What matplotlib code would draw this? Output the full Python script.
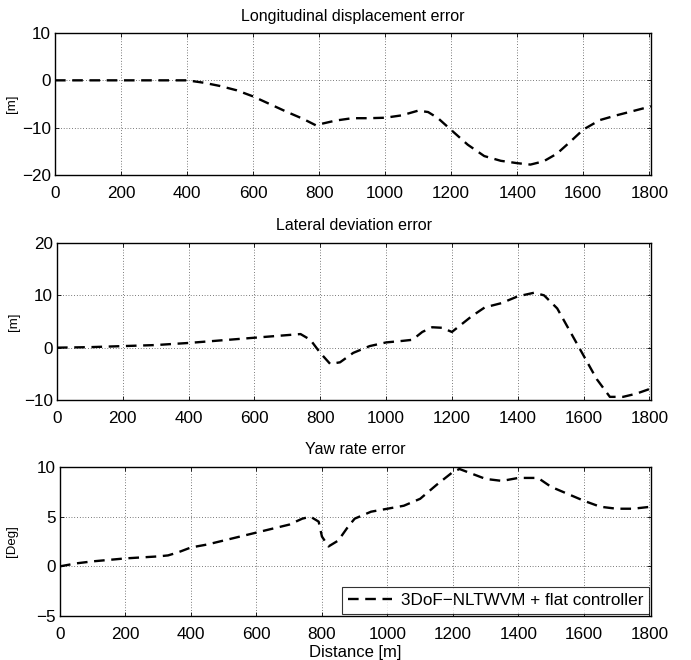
import numpy as np
import matplotlib
matplotlib.use('Agg')
import matplotlib.pyplot as plt

plt.rcParams['font.family'] = ['Liberation Sans', 'DejaVu Sans']

# Longitudinal displacement error [m]
long_x = [0, 100, 200, 300, 400, 450, 500, 550, 600, 650, 700, 750, 790, 800, 850, 900,
          950, 1000, 1050, 1100, 1130, 1160, 1200, 1250, 1300, 1350, 1400, 1440, 1480,
          1520, 1560, 1600, 1650, 1700, 1750, 1805]
long_y = [0, 0, 0, 0, 0, -0.5, -1.2, -2.1, -3.4, -5.0, -6.6, -8.1, -9.5, -9.3, -8.5, -8.0,
          -8.0, -7.9, -7.4, -6.4, -6.7, -8.0, -10.5, -13.6, -16.0, -17.0, -17.5, -17.8, -17.1,
          -15.5, -13.0, -10.4, -8.4, -7.4, -6.5, -5.5]

# Lateral deviation error [m]
lat_x = [0, 100, 200, 300, 400, 500, 600, 700, 740, 770, 800, 830, 860, 900, 950, 1000,
         1050, 1080, 1110, 1140, 1170, 1200, 1230, 1260, 1300, 1350, 1400, 1450, 1480,
         1520, 1560, 1600, 1640, 1680, 1720, 1760, 1805]
lat_y = [0, 0.1, 0.3, 0.5, 0.9, 1.4, 1.9, 2.4, 2.6, 1.5, -1.0, -3.1, -2.8, -1.0, 0.3, 1.0,
         1.3, 1.5, 3.0, 3.9, 3.8, 3.0, 4.5, 6.0, 7.7, 8.5, 9.8, 10.5, 10.0,
         7.5, 3.0, -1.5, -6.0, -9.4, -9.4, -8.8, -7.8]

# Yaw rate error [Deg]
yaw_x = [0, 50, 100, 200, 250, 300, 330, 360, 400, 450, 500, 550, 600, 650, 700, 740, 765,
         790, 800, 820, 850, 880, 900, 950, 1000, 1050, 1100, 1150, 1200, 1220, 1260, 1300,
         1350, 1400, 1460, 1500, 1550, 1600, 1650, 1700, 1750, 1805]
yaw_y = [0, 0.3, 0.5, 0.8, 0.9, 1.0, 1.1, 1.4, 1.9, 2.2, 2.6, 3.0, 3.4, 3.8, 4.2, 4.8, 5.0,
         4.5, 3.0, 2.0, 2.6, 4.0, 4.8, 5.5, 5.8, 6.1, 6.8, 8.2, 9.5, 9.8, 9.3, 8.8,
         8.6, 8.9, 8.9, 8.0, 7.3, 6.6, 6.0, 5.8, 5.8, 6.0]

titles = ['Longitudinal displacement error', 'Lateral deviation error', 'Yaw rate error']
ylabels = ['[m]', '[m]', '[Deg]']
ylims = [(-20, 10), (-10, 20), (-5, 10)]
yticks = [[-20, -10, 0, 10], [-10, 0, 10, 20], [-5, 0, 5, 10]]
xticks = list(range(0, 1801, 200))
legend_label = '3DoF\u2212NLTWVM + flat controller'

W, H = 691, 660
fig = plt.figure(figsize=(W / 100, H / 100), dpi=100)
# (left, top, right, bottom) in pixels
boxes = [(55, 33, 651, 175), (57, 243, 651, 400), (60, 467, 651, 616)]
label_x = [18, 20, 18]
data = [(long_x, long_y), (lat_x, lat_y), (yaw_x, yaw_y)]

for i in range(3):
    l, t, r, b = boxes[i]
    ax = fig.add_axes([l / W, 1 - b / H, (r - l) / W, (b - t) / H])
    xs, ys = data[i]
    line, = ax.plot(xs, ys, color='black', linewidth=1.7, linestyle=(0, (4.5, 2.8)))
    ax.set_xlim(0, 1805)
    ax.set_ylim(*ylims[i])
    ax.set_xticks(xticks)
    ax.set_yticks(yticks[i])
    ax.set_yticklabels([str(v).replace('-', '\u2212') for v in yticks[i]])
    ax.tick_params(direction='in', length=3, width=0.6, labelsize=12.3,
                   top=True, right=True, pad=3)
    ax.tick_params(axis='x', pad=8)
    ax.grid(True, color='black', linestyle=(0, (1, 3)), linewidth=0.5)
    for s in ax.spines.values():
        s.set_linewidth(1.0)
    ax.set_title(titles[i], fontsize=11.5, pad=9)
    ax.set_ylabel(ylabels[i], fontsize=9.5)
    ax.yaxis.set_label_coords((label_x[i] - l) / (r - l), 0.5)
    if i == 2:
        ax.set_xlabel('Distance [m]', fontsize=12, labelpad=2)
        leg = ax.legend([line], [legend_label], loc='lower right', fontsize=12.3,
                        frameon=True, fancybox=False, borderaxespad=0.1,
                        handlelength=2.6, handletextpad=0.5, borderpad=0.35)
        leg.get_frame().set_edgecolor('black')
        leg.get_frame().set_linewidth(0.8)

fig.savefig('out.png', dpi=100)
